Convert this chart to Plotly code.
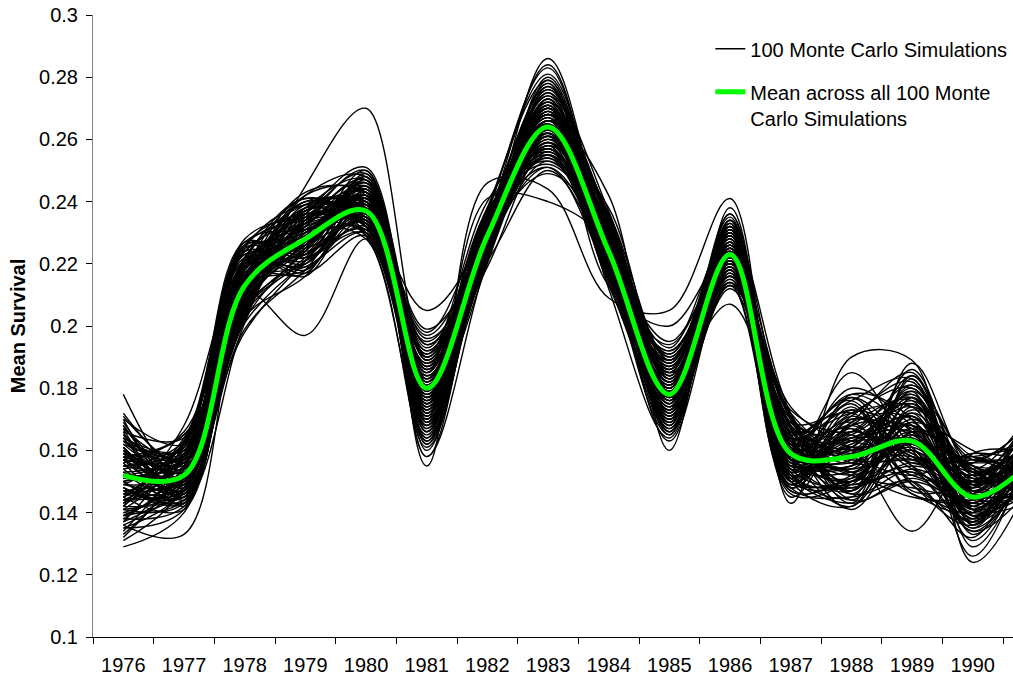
import plotly.graph_objects as go

# Survival year categories (1991 sits just past the right edge of the plot)
YEARS = list(range(1976, 1992))
YEAR_LABELS = [str(y) for y in range(1976, 1991)]

# Mean survival across all simulations, one value per year
MEAN_SURVIVAL = [0.152, 0.152, 0.213, 0.228, 0.237, 0.180, 0.229, 0.264,
                 0.224, 0.178, 0.223, 0.159, 0.158, 0.163, 0.145, 0.157]

# Monte Carlo runs: one row per simulation, survival in thousandths, 1976..1991
SIMULATIONS_PERMILLE = [
    [145, 158, 220, 233, 241, 175, 231, 270, 219, 182, 228, 153, 166, 158, 149, 160],
    [160, 147, 208, 225, 243, 186, 224, 259, 230, 171, 219, 164, 150, 172, 139, 151],
    [138, 155, 216, 236, 232, 171, 235, 268, 226, 185, 230, 158, 161, 160, 152, 163],
    [156, 143, 205, 221, 238, 190, 227, 255, 221, 174, 216, 167, 147, 169, 141, 149],
    [149, 162, 224, 230, 246, 178, 222, 275, 233, 180, 225, 150, 171, 155, 137, 166],
    [168, 150, 210, 240, 229, 165, 233, 262, 215, 189, 221, 161, 155, 181, 147, 154],
    [142, 146, 199, 218, 240, 193, 230, 249, 228, 168, 232, 156, 163, 162, 156, 170],
    [153, 159, 218, 229, 235, 182, 238, 279, 222, 176, 213, 170, 144, 150, 143, 145],
    [163, 153, 212, 234, 250, 172, 226, 266, 236, 183, 226, 148, 168, 176, 133, 158],
    [135, 141, 226, 224, 231, 184, 219, 258, 217, 192, 220, 163, 152, 165, 150, 161],
    [158, 165, 207, 227, 244, 168, 232, 271, 225, 172, 234, 158, 175, 146, 146, 168],
    [147, 148, 215, 238, 236, 197, 228, 260, 231, 179, 218, 152, 149, 173, 158, 152],
    [171, 156, 203, 216, 239, 177, 236, 283, 220, 165, 224, 166, 160, 159, 140, 147],
    [140, 151, 221, 231, 228, 161, 224, 253, 227, 186, 229, 160, 157, 184, 152, 164],
    [150, 160, 211, 242, 248, 189, 230, 265, 213, 177, 217, 149, 170, 161, 135, 155],
    [161, 145, 217, 223, 234, 174, 222, 272, 234, 170, 231, 172, 146, 154, 148, 173],
    [133, 154, 206, 229, 242, 183, 233, 257, 223, 195, 222, 157, 164, 168, 155, 150],
    [155, 163, 228, 235, 237, 170, 227, 268, 218, 181, 236, 162, 153, 145, 144, 159],
    [144, 149, 214, 219, 230, 191, 240, 263, 229, 169, 214, 151, 178, 170, 131, 162],
    [166, 142, 209, 232, 245, 179, 225, 276, 237, 184, 223, 165, 141, 163, 151, 146],
    [151, 157, 219, 226, 233, 163, 231, 251, 216, 175, 227, 155, 166, 177, 142, 167],
    [139, 152, 202, 237, 240, 187, 223, 269, 224, 190, 219, 168, 158, 152, 159, 156],
    [159, 161, 223, 221, 238, 176, 229, 261, 232, 166, 233, 146, 150, 166, 138, 153],
    [148, 144, 213, 233, 247, 169, 234, 274, 221, 178, 221, 160, 172, 180, 149, 171],
    [165, 155, 208, 228, 231, 195, 226, 256, 226, 187, 216, 171, 156, 157, 145, 148],
    [136, 150, 225, 239, 236, 181, 232, 267, 214, 173, 230, 153, 145, 174, 153, 160],
    [157, 158, 216, 217, 243, 173, 221, 262, 230, 182, 225, 162, 169, 149, 136, 165],
    [146, 147, 204, 230, 234, 185, 237, 281, 225, 163, 218, 158, 162, 171, 147, 151],
    [162, 153, 220, 236, 249, 166, 228, 254, 219, 180, 235, 147, 151, 162, 157, 158],
    [143, 164, 211, 225, 239, 192, 230, 270, 235, 176, 222, 166, 176, 183, 141, 144],
    [154, 146, 218, 241, 232, 178, 225, 259, 218, 191, 226, 154, 148, 156, 150, 169],
    [169, 151, 206, 222, 241, 167, 235, 264, 228, 171, 212, 169, 159, 168, 139, 162],
    [141, 159, 227, 231, 235, 188, 223, 277, 223, 185, 229, 159, 165, 175, 154, 154],
    [150, 143, 212, 234, 246, 175, 232, 258, 233, 168, 224, 152, 143, 151, 143, 166],
    [158, 156, 201, 220, 230, 183, 229, 269, 216, 179, 220, 164, 173, 164, 134, 149],
    [137, 162, 222, 237, 238, 164, 236, 252, 229, 188, 232, 157, 155, 186, 148, 175],
    [164, 148, 215, 227, 244, 194, 222, 273, 222, 174, 215, 170, 161, 158, 156, 157],
    [152, 154, 209, 232, 233, 172, 231, 260, 238, 183, 227, 149, 168, 167, 137, 152],
    [145, 141, 224, 218, 240, 186, 227, 266, 217, 170, 221, 163, 152, 148, 146, 163],
    [167, 157, 214, 240, 237, 177, 233, 284, 227, 193, 230, 161, 147, 172, 152, 147],
    [139, 152, 205, 224, 248, 169, 225, 255, 224, 177, 218, 155, 177, 160, 140, 168],
    [156, 166, 219, 235, 232, 190, 230, 271, 212, 164, 226, 167, 163, 178, 150, 156],
    [148, 145, 210, 229, 242, 181, 238, 262, 231, 186, 233, 151, 149, 153, 144, 161],
    [161, 150, 226, 223, 236, 162, 224, 257, 226, 172, 214, 172, 158, 169, 160, 150],
    [134, 158, 207, 238, 229, 184, 232, 275, 220, 181, 228, 156, 171, 182, 136, 172],
    [153, 149, 217, 226, 245, 174, 228, 263, 236, 189, 222, 160, 154, 161, 147, 159],
    [172, 155, 203, 233, 238, 196, 221, 250, 219, 167, 217, 165, 144, 166, 155, 146],
    [142, 163, 221, 219, 234, 171, 234, 268, 228, 180, 231, 148, 166, 155, 142, 164],
    [157, 147, 213, 236, 251, 179, 229, 278, 223, 176, 225, 162, 160, 176, 153, 155],
    [149, 153, 208, 230, 240, 187, 226, 261, 230, 184, 219, 158, 150, 163, 138, 167],
    [163, 160, 225, 225, 233, 168, 235, 265, 215, 173, 234, 153, 174, 147, 149, 153],
    [140, 144, 212, 242, 243, 182, 231, 256, 232, 190, 220, 168, 156, 179, 157, 160],
    [155, 156, 204, 221, 231, 175, 223, 280, 225, 169, 227, 150, 142, 165, 135, 170],
    [147, 151, 219, 234, 247, 160, 230, 267, 221, 182, 216, 164, 167, 154, 146, 149],
    [166, 164, 215, 228, 236, 191, 228, 258, 234, 178, 229, 157, 162, 171, 151, 158],
    [138, 142, 201, 238, 239, 178, 233, 272, 218, 194, 223, 171, 148, 160, 143, 166],
    [151, 155, 223, 216, 244, 166, 226, 263, 229, 171, 213, 152, 169, 185, 139, 151],
    [159, 149, 210, 232, 230, 185, 237, 253, 226, 179, 231, 166, 157, 157, 158, 162],
    [144, 158, 218, 227, 241, 176, 222, 270, 217, 187, 226, 159, 180, 168, 147, 157],
    [170, 146, 207, 235, 235, 170, 232, 266, 233, 166, 221, 148, 145, 150, 132, 174],
    [146, 161, 227, 222, 249, 189, 227, 259, 224, 183, 218, 163, 164, 174, 154, 145],
    [157, 152, 214, 240, 232, 173, 234, 276, 228, 175, 232, 155, 153, 162, 141, 163],
    [135, 147, 205, 231, 238, 199, 225, 261, 220, 188, 224, 169, 172, 159, 150, 152],
    [162, 159, 220, 226, 245, 167, 230, 268, 236, 172, 217, 161, 159, 177, 145, 168],
    [150, 145, 211, 237, 234, 183, 236, 255, 216, 180, 228, 150, 148, 153, 137, 159],
    [143, 157, 224, 220, 242, 177, 224, 273, 227, 191, 222, 173, 166, 181, 155, 150],
    [168, 150, 209, 233, 237, 158, 229, 264, 231, 169, 230, 156, 155, 164, 148, 171],
    [154, 162, 217, 229, 231, 186, 233, 257, 222, 177, 215, 165, 176, 149, 140, 155],
    [141, 148, 202, 225, 246, 174, 220, 279, 225, 185, 226, 158, 151, 170, 153, 164],
    [160, 154, 222, 239, 240, 180, 231, 262, 219, 174, 233, 152, 163, 166, 144, 148],
    [148, 143, 213, 218, 236, 192, 227, 269, 234, 182, 220, 167, 147, 183, 136, 161],
    [164, 160, 206, 232, 243, 169, 235, 254, 226, 167, 224, 160, 168, 156, 156, 169],
    [137, 151, 226, 236, 233, 184, 223, 271, 221, 189, 219, 154, 160, 162, 149, 156],
    [152, 156, 216, 223, 248, 176, 230, 265, 230, 178, 231, 163, 154, 175, 142, 152],
    [158, 146, 208, 230, 239, 163, 226, 258, 217, 186, 227, 149, 173, 158, 157, 165],
    [145, 163, 221, 241, 230, 188, 234, 277, 228, 170, 213, 170, 146, 169, 139, 158],
    [161, 149, 212, 227, 242, 179, 228, 260, 224, 181, 225, 157, 165, 152, 150, 173],
    [132, 155, 203, 234, 236, 171, 232, 266, 232, 176, 229, 162, 158, 180, 146, 147],
    [150, 158, 219, 220, 245, 194, 225, 263, 220, 192, 221, 151, 170, 165, 153, 162],
    [167, 144, 214, 236, 232, 166, 237, 256, 227, 165, 234, 168, 149, 160, 134, 157],
    [146, 152, 207, 228, 241, 182, 229, 274, 235, 183, 218, 155, 161, 178, 148, 167],
    [155, 161, 224, 233, 234, 175, 224, 262, 218, 179, 226, 164, 177, 157, 158, 151],
    [139, 147, 215, 224, 247, 189, 231, 270, 229, 173, 223, 147, 152, 171, 141, 160],
    [163, 157, 210, 239, 238, 168, 226, 251, 223, 188, 230, 161, 164, 163, 152, 170],
    [149, 150, 222, 217, 229, 185, 233, 267, 230, 171, 216, 171, 143, 184, 145, 146],
    [157, 165, 204, 235, 243, 173, 227, 278, 216, 180, 232, 154, 167, 150, 138, 163],
    [141, 143, 218, 231, 235, 198, 234, 259, 233, 184, 221, 160, 156, 167, 155, 155],
    [165, 154, 212, 226, 250, 177, 222, 264, 225, 168, 227, 166, 172, 174, 143, 168],
    [152, 159, 209, 237, 237, 164, 230, 272, 221, 187, 219, 150, 150, 155, 151, 153],
    [131, 148, 225, 222, 232, 187, 236, 257, 228, 175, 225, 163, 161, 179, 129, 161],
    [159, 156, 216, 232, 244, 172, 225, 268, 234, 177, 231, 158, 185, 161, 147, 166],
    [144, 151, 206, 245, 270, 190, 232, 261, 219, 166, 222, 157, 147, 188, 153, 150],
    [170, 162, 219, 229, 238, 180, 228, 286, 226, 182, 214, 169, 163, 158, 137, 172],
    [153, 145, 211, 197, 228, 176, 226, 255, 231, 189, 228, 152, 158, 134, 159, 159],
    [147, 153, 198, 221, 241, 162, 233, 263, 223, 173, 236, 162, 178, 166, 145, 154],
    [164, 158, 226, 234, 234, 205, 230, 269, 213, 200, 224, 145, 169, 170, 126, 165],
    [136, 133, 213, 238, 247, 170, 241, 240, 227, 185, 207, 165, 153, 162, 149, 143],
    [178, 150, 208, 226, 236, 158, 221, 266, 242, 160, 238, 159, 142, 177, 154, 174],
    [142, 168, 221, 230, 239, 183, 229, 273, 220, 181, 220, 174, 160, 146, 140, 158],
    [129, 140, 214, 243, 242, 155, 246, 244, 209, 205, 241, 143, 190, 189, 124, 152],
]

FONT = "Liberation Sans, Arial, sans-serif"

fig = go.Figure()

for i, row in enumerate(SIMULATIONS_PERMILLE):
    fig.add_trace(go.Scatter(
        x=YEARS,
        y=[v / 1000 for v in row],
        mode="lines",
        line=dict(color="black", width=1.4, shape="spline", smoothing=1),
        name="100 Monte Carlo Simulations",
        legendgroup="sims",
        showlegend=(i == 0),
        hoverinfo="skip",
    ))

fig.add_trace(go.Scatter(
    x=YEARS,
    y=MEAN_SURVIVAL,
    mode="lines",
    line=dict(color="#00ff00", width=5, shape="spline", smoothing=1),
    name="Mean across all 100 Monte<br>Carlo Simulations",
    legendgroup="mean",
))

plot_left, plot_right = 93, 1013
cat_width = 60.67
x_end = 1975.5 + (plot_right - plot_left) / cat_width

fig.update_layout(
    width=1013,
    height=679,
    margin=dict(l=93, r=0, t=15, b=42),
    paper_bgcolor="white",
    plot_bgcolor="white",
    font=dict(family=FONT, size=20, color="black"),
    showlegend=True,
    legend=dict(
        x=0.671, y=0.977, xanchor="left", yanchor="top",
        bgcolor="rgba(0,0,0,0)",
        font=dict(family=FONT, size=20, color="black"),
        traceorder="grouped",
        tracegroupgap=14,
        valign="top",
    ),
    xaxis=dict(
        range=[1975.5, x_end],
        tickvals=list(range(1976, 1991)),
        ticktext=YEAR_LABELS,
        ticks="",
        ticklabelstandoff=10,
        showgrid=False,
        zeroline=False,
        showline=True,
        linecolor="black",
        linewidth=1,
        tickfont=dict(family=FONT, size=20, color="black"),
        minor=dict(ticks="outside", tick0=1975.5, dtick=1, ticklen=6,
                   tickcolor="black", tickwidth=1, showgrid=False),
    ),
    yaxis=dict(
        range=[0.1, 0.3],
        tickvals=[0.1, 0.12, 0.14, 0.16, 0.18, 0.2, 0.22, 0.24, 0.26, 0.28, 0.3],
        ticktext=["0.1", "0.12", "0.14", "0.16", "0.18", "0.2", "0.22", "0.24", "0.26", "0.28", "0.3"],
        ticks="outside",
        ticklen=6,
        tickcolor="black",
        ticklabelstandoff=4,
        showgrid=False,
        zeroline=False,
        showline=True,
        linecolor="#808080",
        linewidth=1,
        tickfont=dict(family=FONT, size=20, color="black"),
        title=dict(text="<b>Mean Survival</b>", font=dict(family=FONT, size=20, color="black"),
                   standoff=8),
    ),
)

fig.write_html("out.html")
